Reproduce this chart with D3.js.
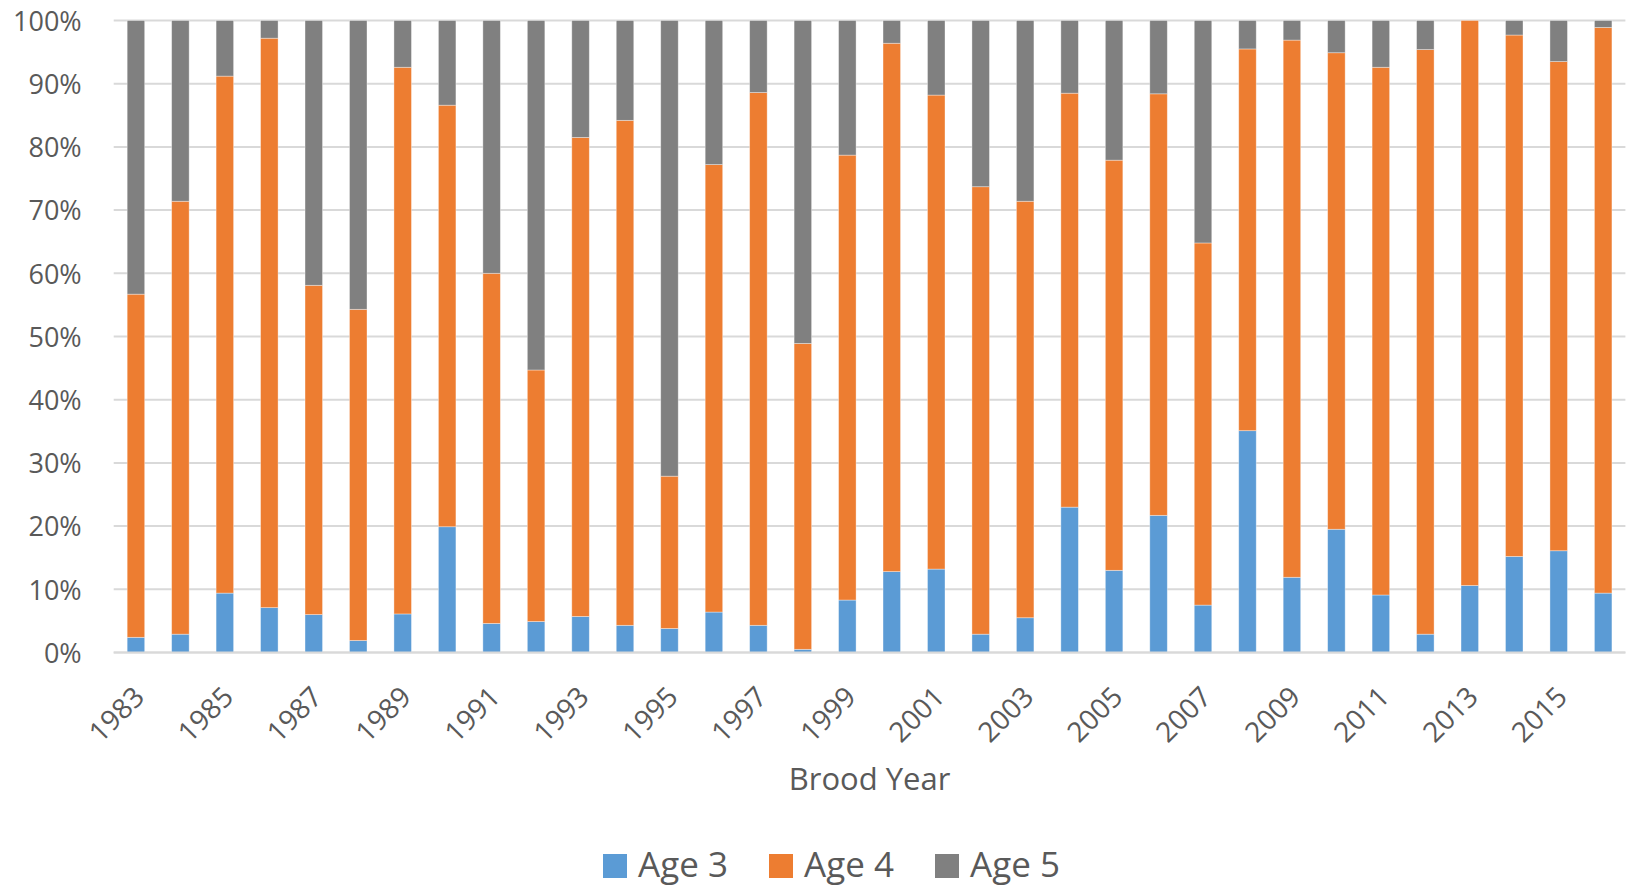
<!DOCTYPE html>
<html>
<head>
<meta charset="utf-8">
<script src="https://cdn.jsdelivr.net/npm/d3@7"></script>
<style>
  html, body { margin: 0; padding: 0; background: #fff; }
  svg { display: block; font-family: "Open Sans", "Noto Sans", sans-serif; }
</style>
</head>
<body>
<svg id="chart" width="1634" height="888"></svg>
<script>
// Brood years on the x axis
const years = d3.range(1983, 2017);

// Share of returns by age (percent of each brood year)
const age3 = [2.4, 2.9, 9.4, 7.1, 6.0, 1.9, 6.1, 19.9, 4.6, 4.9,
              5.7, 4.3, 3.8, 6.4, 4.3, 0.5, 8.3, 12.8, 13.2, 2.9,
              5.5, 23.0, 13.0, 21.7, 7.5, 35.1, 11.9, 19.5, 9.1, 2.9,
              10.6, 15.2, 16.1, 9.4];
const age4 = [54.3, 68.5, 81.8, 90.1, 52.1, 52.4, 86.5, 66.7, 55.4, 39.8,
              75.8, 79.9, 24.1, 70.8, 84.3, 48.4, 70.4, 83.6, 75.0, 70.8,
              65.9, 65.5, 64.9, 66.7, 57.3, 60.4, 85.0, 75.4, 83.5, 92.5,
              89.4, 82.5, 77.4, 89.5];
const age5 = [43.3, 28.6, 8.8, 2.8, 41.9, 45.7, 7.4, 13.4, 40.0, 55.3,
              18.5, 15.8, 72.1, 22.8, 11.4, 51.1, 21.3, 3.6, 11.8, 26.3,
              28.6, 11.5, 22.1, 11.6, 35.2, 4.5, 3.1, 5.1, 7.4, 4.6,
              0.0, 2.3, 6.5, 1.1];

const seriesNames = ["Age 3", "Age 4", "Age 5"];
const seriesColors = ["#5B9BD5", "#ED7D31", "#808080"];
const yTicks = [0, 10, 20, 30, 40, 50, 60, 70, 80, 90, 100];
const xTickYears = years.filter(y => (y - 1983) % 2 === 0);
const xTitle = "Brood Year";

// Rows for the stack layout
const rows = years.map((yr, i) => ({
  year: yr,
  "Age 3": age3[i],
  "Age 4": age4[i],
  "Age 5": age5[i]
}));

const svg = d3.select("#chart");
const plot = { left: 113.7, right: 1625.4, top: 20.5, bottom: 652.5 };
const textColor = "#595959";

const x = d3.scaleBand()
  .domain(years)
  .range([plot.left, plot.right])
  .paddingInner(0.606)
  .paddingOuter(0.303);

const y = d3.scaleLinear()
  .domain([0, 100])
  .range([plot.bottom, plot.top]);

const color = d3.scaleOrdinal().domain(seriesNames).range(seriesColors);

// Horizontal gridlines
svg.append("g")
  .selectAll("line")
  .data(yTicks)
  .join("line")
  .attr("x1", plot.left)
  .attr("x2", plot.right)
  .attr("y1", d => y(d))
  .attr("y2", d => y(d))
  .attr("stroke", "#D9D9D9")
  .attr("stroke-width", 2);

// Y axis labels
const yAxis = d3.axisLeft(y)
  .tickValues(yTicks)
  .tickFormat(d => d + "%")
  .tickSize(0)
  .tickPadding(32);
const gy = svg.append("g")
  .attr("transform", `translate(${plot.left},0)`)
  .call(yAxis);
gy.select(".domain").remove();
gy.selectAll("text")
  .attr("fill", textColor)
  .attr("font-size", 27)
  .attr("font-family", "Open Sans, sans-serif")
  .attr("dy", "0.36em");

// Stacked bars
const stacked = d3.stack().keys(seriesNames)(rows);
svg.append("g")
  .selectAll("g")
  .data(stacked)
  .join("g")
  .attr("fill", d => color(d.key))
  .selectAll("rect")
  .data(d => d)
  .join("rect")
  .attr("x", d => x(d.data.year))
  .attr("width", x.bandwidth())
  .attr("y", d => y(d[1]))
  .attr("height", d => Math.max(0, y(d[0]) - y(d[1])))
  .attr("stroke", "rgba(255,255,255,0.45)")
  .attr("stroke-width", 0.8);

// Baseline
svg.append("line")
  .attr("x1", plot.left)
  .attr("x2", plot.right)
  .attr("y1", y(0))
  .attr("y2", y(0))
  .attr("stroke", "#D9D9D9")
  .attr("stroke-width", 2);

// X axis labels, rotated
svg.append("g")
  .selectAll("text")
  .data(xTickYears)
  .join("text")
  .attr("transform", d => `translate(${x(d) + x.bandwidth() / 2 + 3},${plot.bottom + 39}) rotate(-45)`)
  .attr("text-anchor", "end")
  .attr("dy", "0.36em")
  .attr("fill", textColor)
  .attr("font-size", 28)
  .text(d => d);

// X axis title
svg.append("text")
  .attr("x", (plot.left + plot.right) / 2)
  .attr("y", 790)
  .attr("text-anchor", "middle")
  .attr("fill", textColor)
  .attr("font-size", 31)
  .text(xTitle);

// Legend
const legend = svg.append("g")
  .attr("transform", "translate(603,0)");
const item = legend.selectAll("g")
  .data(seriesNames)
  .join("g")
  .attr("transform", (d, i) => `translate(${i * 166},0)`);
item.append("rect")
  .attr("x", 0)
  .attr("y", 854)
  .attr("width", 24)
  .attr("height", 24)
  .attr("fill", d => color(d));
item.append("text")
  .attr("x", 35)
  .attr("y", 877)
  .attr("fill", textColor)
  .attr("font-size", 35)
  .text(d => d);
</script>
</body>
</html>
